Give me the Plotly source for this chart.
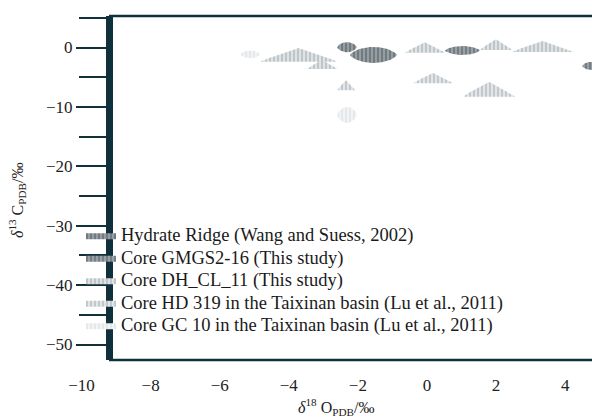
import numpy as np
import plotly.graph_objects as go

# ---- data ----
series_names = [
    "Hydrate Ridge (Wang and Suess, 2002)",
    "Core GMGS2-16 (This study)",
    "Core DH_CL_11 (This study)",
    "Core HD 319 in the Taixinan basin (Lu et al., 2011)",
    "Core GC 10 in the Taixinan basin (Lu et al., 2011)",
]

# each region: [min, max] of δ18O (x) and δ13C (y), plus outline kind
hydrate_x = [[-2.60, -2.03], [-2.23, -0.87]]
hydrate_y = [[-0.8, 0.9], [-2.6, 0.1]]
hydrate_kind = ["lens", "lens"]

gmgs_x = [[0.52, 1.53], [4.49, 5.05]]
gmgs_y = [[-1.26, 0.25], [-3.8, -2.4]]
gmgs_kind = ["lens", "lens"]

dhcl_x = [[-4.83, -2.60], [-3.47, -2.60], [-0.64, 0.52], [1.53, 2.46], [2.46, 4.23]]
dhcl_y = [[-2.4, -0.1], [-3.6, -2.1], [-0.9, 0.9], [-0.4, 1.4], [-0.76, 1.1]]
dhcl_kind = ["mound", "mound", "mound", "mound", "mound"]

hd_x = [[-0.40, 0.75], [1.04, 2.55], [-2.60, -2.08]]
hd_y = [[-6.0, -4.3], [-8.3, -5.8], [-7.2, -5.5]]
hd_kind = ["mound", "mound", "mound"]

gc_x = [[-2.60, -2.03], [-5.40, -4.83]]
gc_y = [[-12.7, -10.0], [-1.8, -0.5]]
gc_kind = ["lens", "lens"]

x_ticks = [-10, -8, -6, -4, -2, 0, 2, 4]
y_ticks = [-50, -40, -30, -20, -10, 0]

series_x = [hydrate_x, gmgs_x, dhcl_x, hd_x, gc_x]
series_y = [hydrate_y, gmgs_y, dhcl_y, hd_y, gc_y]
series_kind = [hydrate_kind, gmgs_kind, dhcl_kind, hd_kind, gc_kind]

# ---- styles ----
pattern_fg = ["#434f57", "#48535a", "#97a1a6", "#9ba4a9", "#d8dde0"]
pattern_bg = ["#959ea3", "#98a1a6", "#dfe3e5", "#e2e6e8", "#f1f3f4"]
axis_color = "#10303c"
font_family = "Times New Roman, Liberation Serif, DejaVu Serif, serif"


def outline(xr, yr, kind):
    t = np.linspace(-1, 1, 41)
    cx = (xr[0] + xr[1]) / 2
    hx = (xr[1] - xr[0]) / 2
    xs = cx + hx * t
    if kind == "lens":
        cy = (yr[0] + yr[1]) / 2
        hy = (yr[1] - yr[0]) / 2
        prof = (1 - t ** 2) ** 0.7
        top = cy + hy * prof
        bot = cy - hy * prof
        px = list(xs) + list(xs[::-1])
        py = list(top) + list(bot[::-1])
    else:  # mound: flat base, peaked top
        prof = (1 - np.abs(t)) ** 0.9
        top = yr[0] + (yr[1] - yr[0]) * prof
        px = list(xs) + [xs[0]]
        py = list(top) + [yr[0]]
    return px, py


fig = go.Figure()
for i, name in enumerate(series_names):
    X, Y = [], []
    for xr, yr, k in zip(series_x[i], series_y[i], series_kind[i]):
        px, py = outline(xr, yr, k)
        X += px + [None]
        Y += py + [None]
    fig.add_trace(go.Scatter(
        x=X, y=Y, name='<span style="font-size:18.5px">' + name + "</span>",
        mode="lines", fill="toself",
        line=dict(width=0, color=pattern_fg[i]),
        fillcolor=pattern_bg[i],
        fillpattern=dict(shape="|", fgcolor=pattern_fg[i], bgcolor=pattern_bg[i],
                         size=4, solidity=0.45),
        hoverinfo="skip",
    ))

W, H = 592, 417
ML, MR, MT, MB = 0, 0, 16, 57
y_axis_px = 109
px_per_x = 34.55
x0_px = 427
xr_lo = (ML - x0_px) / px_per_x
xr_hi = (W - MR - x0_px) / px_per_x
yr_hi = (47.5 - MT) / 5.94
yr_lo = (47.5 - (H - MB)) / 5.94
ypos = y_axis_px / W
PH = H - MT - MB

fig.update_layout(
    width=W, height=H,
    margin=dict(l=ML, r=MR, t=MT, b=MB),
    paper_bgcolor="white", plot_bgcolor="white",
    font=dict(family=font_family, size=17, color="#222222"),
    showlegend=True,
    legend=dict(x=81 / W, xanchor="left", y=1 - (219 - MT) / PH, yanchor="top",
                bgcolor="rgba(0,0,0,0)", font=dict(size=15, family=font_family, color="#1a1a1a"),
                itemwidth=30, tracegroupgap=0),
    xaxis=dict(range=[xr_lo, xr_hi], domain=[0, 1], showline=False, showgrid=False,
               zeroline=False, tickvals=x_ticks, ticks="outside", ticklen=10,
               tickcolor="rgba(0,0,0,0)", tickfont=dict(size=17, family=font_family, color="#222222")),
    yaxis=dict(range=[yr_lo, yr_hi], anchor="free", position=ypos, showline=True,
               linecolor=axis_color, linewidth=7, showgrid=False, zeroline=False,
               tickvals=y_ticks, ticks="outside", ticklen=30, tickwidth=2,
               tickcolor=axis_color, tickfont=dict(size=17, family=font_family, color="#222222"),
               minor=dict(dtick=5, tick0=0, ticks="outside", ticklen=27, tickwidth=2,
                          tickcolor=axis_color, showgrid=False)),
    shapes=[
        dict(type="line", xref="paper", yref="paper", x0=ypos, x1=1, y0=1, y1=1,
             line=dict(color=axis_color, width=2.5)),
        dict(type="line", xref="paper", yref="paper", x0=ypos, x1=1, y0=0, y1=0,
             line=dict(color=axis_color, width=2.5)),
    ],
    annotations=[
        dict(text="<i>δ</i><sup>18</sup> O<sub>PDB</sub>/‰", xref="paper", yref="paper",
             x=336 / W, y=-(407 - (H - MB)) / PH, showarrow=False,
             xanchor="center", yanchor="middle", font=dict(size=16, family=font_family, color="#222222")),
        dict(text="<i>δ</i><sup>13</sup> C<sub>PDB</sub>/‰", xref="paper", yref="paper",
             x=17 / W, y=1 - (200 - MT) / PH, showarrow=False, textangle=-90,
             xanchor="center", yanchor="middle", font=dict(size=16, family=font_family, color="#222222")),
    ],
)

fig.write_html("out.html")
